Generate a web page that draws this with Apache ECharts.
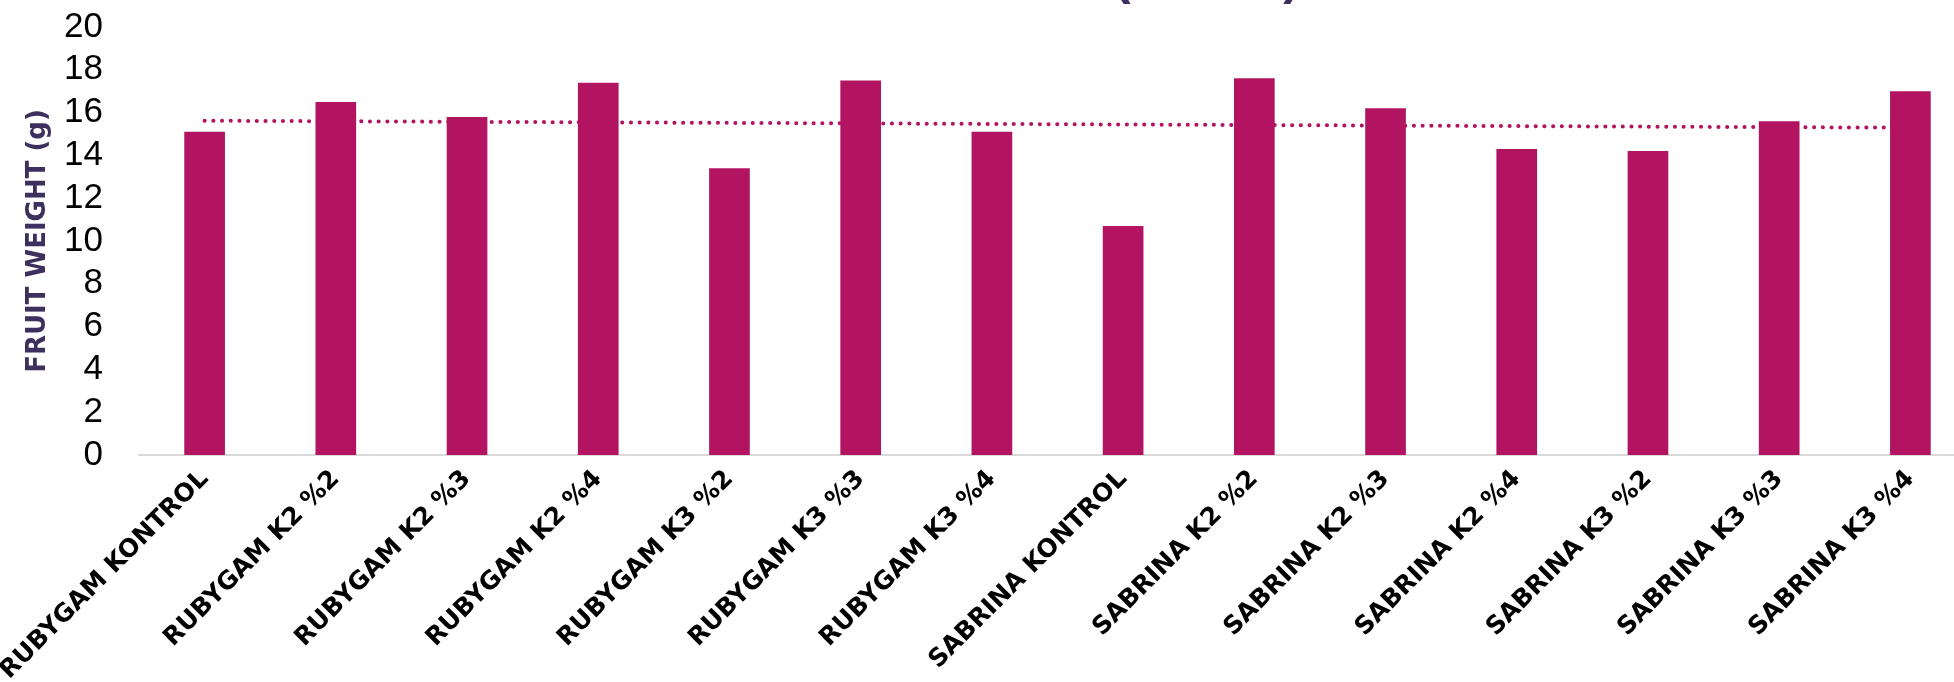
<!DOCTYPE html>
<html>
<head>
<meta charset="utf-8">
<title>Fruit weight</title>
<script src="https://cdn.jsdelivr.net/npm/echarts@6/dist/echarts.min.js"></script>
<style>
  html, body { margin: 0; padding: 0; background: #ffffff; }
  #chart { width: 1954px; height: 682px; }
</style>
</head>
<body>
<div id="chart"></div>
<script>
// Treatments along the category axis
const categories = [
  'RUBYGAM KONTROL', 'RUBYGAM K2 %2', 'RUBYGAM K2 %3', 'RUBYGAM K2 %4',
  'RUBYGAM K3 %2', 'RUBYGAM K3 %3', 'RUBYGAM K3 %4', 'SABRINA KONTROL',
  'SABRINA K2 %2', 'SABRINA K2 %3', 'SABRINA K2 %4', 'SABRINA K3 %2',
  'SABRINA K3 %3', 'SABRINA K3 %4'
];

// Mean fruit weight per treatment (g)
const fruitWeight = [15.1, 16.5, 15.8, 17.4, 13.4, 17.5, 15.1, 10.7, 17.6, 16.2, 14.3, 14.2, 15.6, 17.0];

// Value axis ticks
const yTicks = [0, 2, 4, 6, 8, 10, 12, 14, 16, 18, 20];

const titleText = 'FRUIT WEIGHT (GRAM)';
const yAxisName = 'FRUIT WEIGHT (g)';

// Linear least-squares trend through the bar values
function linearTrend(values) {
  const n = values.length;
  let sx = 0, sy = 0, sxx = 0, sxy = 0;
  values.forEach((v, i) => { sx += i; sy += v; sxx += i * i; sxy += i * v; });
  const slope = (n * sxy - sx * sy) / (n * sxx - sx * sx);
  const intercept = (sy - slope * sx) / n;
  return values.map((_, i) => +(intercept + slope * i).toFixed(4));
}
const trend = linearTrend(fruitWeight);

const barColor = '#B31462';
const inkPurple = '#3D2F5E';

const chart = echarts.init(document.getElementById('chart'), null, { renderer: 'canvas' });

chart.setOption({
  backgroundColor: '#ffffff',
  animation: false,
  graphic: [{
    // chart title, sitting mostly above the top edge of the page
    type: 'text',
    x: 1300,
    y: -20,
    style: {
      text: titleText,
      fill: inkPurple,
      align: 'right',
      verticalAlign: 'middle',
      font: 'bold 50px "Liberation Sans"'
    }
  }],
  grid: {
    left: 139, right: -22, top: 27, bottom: 227,
    containLabel: false,
    outerBoundsMode: 'none'
  },
  xAxis: {
    type: 'category',
    data: categories,
    axisLine: { show: true, lineStyle: { color: '#D9D9D9', width: 2 } },
    axisTick: { show: false },
    axisLabel: {
      interval: 0,
      rotate: 45,
      margin: 20,
      color: '#000000',
      fontFamily: 'DejaVu Sans',
      fontWeight: 'bold',
      fontSize: 25
    },
    splitLine: { show: false }
  },
  yAxis: {
    type: 'value',
    min: yTicks[0],
    max: yTicks[yTicks.length - 1],
    interval: yTicks[1] - yTicks[0],
    name: yAxisName,
    nameLocation: 'middle',
    nameGap: 88,
    nameTextStyle: {
      color: inkPurple,
      fontFamily: 'DejaVu Sans',
      fontWeight: 'bold',
      fontSize: 26
    },
    axisLine: { show: false },
    axisTick: { show: false },
    splitLine: { show: false },
    axisLabel: {
      margin: 36,
      color: '#000000',
      fontFamily: 'Liberation Sans',
      fontSize: 35
    }
  },
  series: [
    {
      name: 'Linear trend',
      type: 'line',
      data: trend,
      symbol: 'none',
      silent: true,
      z: 1,
      lineStyle: { color: barColor, width: 4, type: [0.1, 8.6], cap: 'round' }
    },
    {
      name: 'Fruit weight',
      type: 'bar',
      data: fruitWeight,
      barWidth: '31%',
      z: 2,
      itemStyle: { color: barColor }
    }
  ]
});
</script>
</body>
</html>
